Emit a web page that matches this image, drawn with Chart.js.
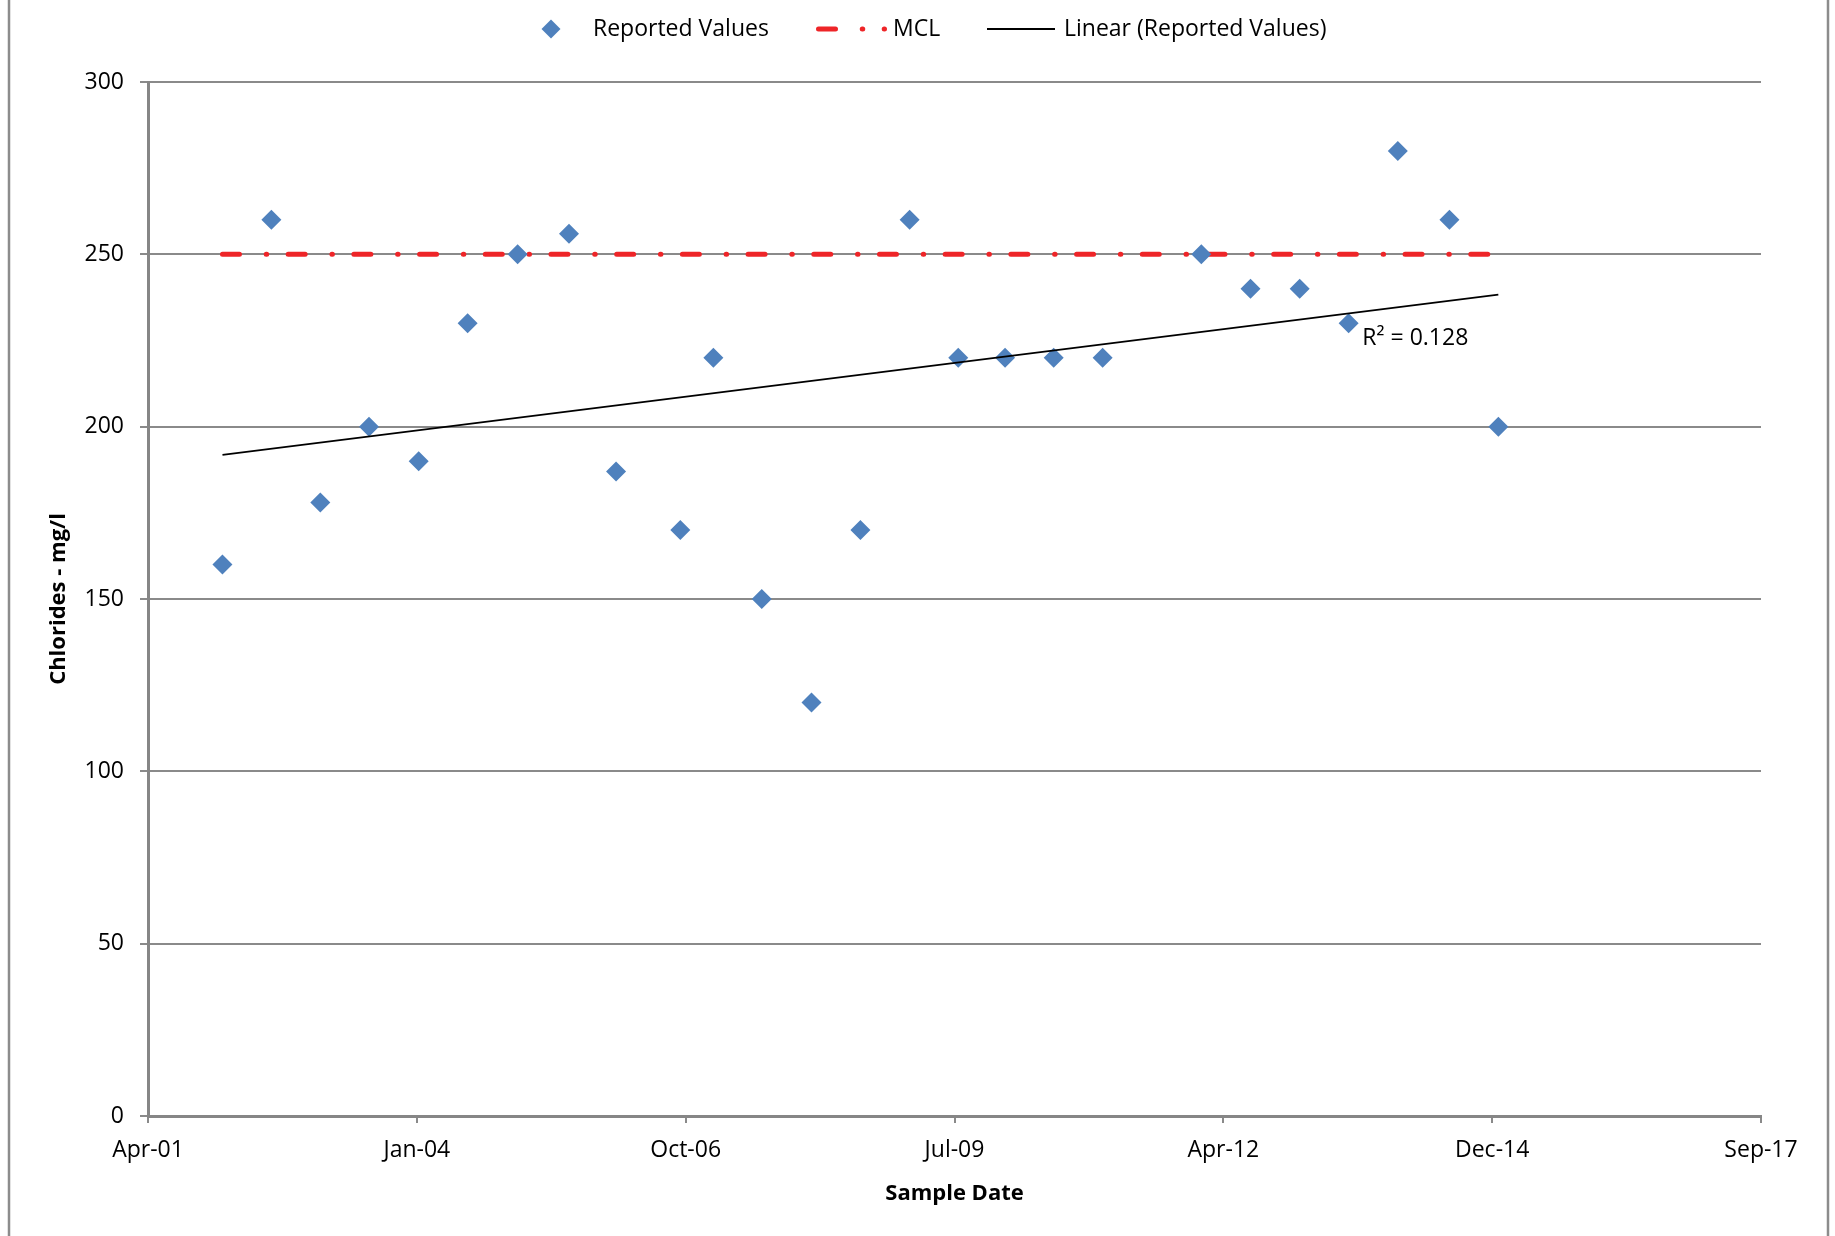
<!DOCTYPE html>
<html>
<head>
<meta charset="utf-8">
<script src="https://cdn.jsdelivr.net/npm/chart.js@4"></script>
<style>
  html, body { margin: 0; padding: 0; background: #ffffff; }
  #c { display: block; }
</style>
</head>
<body>
<canvas id="c" width="1835" height="1236"></canvas>
<script>
// ---- Data ----
const sampleDates = [
  '2002-01-21','2002-07-22','2003-01-20','2003-07-20','2004-01-21','2004-07-21',
  '2005-01-23','2005-08-02','2006-01-24','2006-09-20','2007-01-21','2007-07-20',
  '2008-01-21','2008-07-21','2009-01-20','2009-07-20','2010-01-10','2010-07-10',
  '2011-01-08','2012-01-10','2012-07-11','2013-01-10','2013-07-11','2014-01-10',
  '2014-07-21','2015-01-19'
];
const chlorides = [
  160, 260, 178, 200, 190, 230,
  250, 256, 187, 170, 220, 150,
  120, 170, 260, 220, 220, 220,
  220, 250, 240, 240, 230, 280,
  260, 200
];
const mclValue = 250;
const xTickLabels = ['Apr-01','Jan-04','Oct-06','Jul-09','Apr-12','Dec-14','Sep-17'];
const yTickLabels = ['0','50','100','150','200','250','300'];
const xMinSerial = 37000, xMaxSerial = 43000, xStep = 1000;
const legendLabels = ['Reported Values', 'MCL', 'Linear (Reported Values)'];

// ---- Helpers ----
function toSerial(iso) {
  const [y, m, d] = iso.split('-').map(Number);
  return (Date.UTC(y, m - 1, d) - Date.UTC(1899, 11, 30)) / 86400000;
}
const xs = sampleDates.map(toSerial);
const scatterPts = xs.map((x, i) => ({ x: x, y: chlorides[i] }));

// least-squares trend (as the spreadsheet's linear trendline)
const n = xs.length;
const mx = xs.reduce((a, b) => a + b, 0) / n;
const my = chlorides.reduce((a, b) => a + b, 0) / n;
let sxy = 0, sxx = 0, syy = 0;
for (let i = 0; i < n; i++) {
  sxy += (xs[i] - mx) * (chlorides[i] - my);
  sxx += (xs[i] - mx) ** 2;
  syy += (chlorides[i] - my) ** 2;
}
const slope = sxy / sxx;
const intercept = my - slope * mx;
const r2 = (sxy * sxy) / (sxx * syy);
const xFirst = Math.min(...xs), xLast = Math.max(...xs);
const trendPts = [
  { x: xFirst, y: intercept + slope * xFirst },
  { x: xLast,  y: intercept + slope * xLast }
];
const mclPts = [{ x: xFirst, y: mclValue }, { x: xLast, y: mclValue }];

const FONT = "'Open Sans', 'Noto Sans', sans-serif";
const GRID = '#8a8a8a';
const BLUE = '#4F81BD';
const RED = '#EE2528';
const MCL_DASH = [17, 26.75, 0.5, 21.45];

const framePlugin = {
  id: 'frame',
  afterDraw(chart) {
    const ctx = chart.ctx;
    ctx.save();
    // outer chart border (left/right visible)
    ctx.strokeStyle = '#8c8c8c';
    ctx.lineWidth = 2.5;
    ctx.beginPath();
    ctx.moveTo(9, 0); ctx.lineTo(9, 1236);
    ctx.moveTo(1828, 0); ctx.lineTo(1828, 1236);
    ctx.stroke();

    // R² label near the trendline end
    const xs_ = chart.scales.x, ys_ = chart.scales.y;
    const px = xs_.getPixelForValue(trendPts[1].x);
    const py = ys_.getPixelForValue(trendPts[1].y);
    ctx.fillStyle = '#000';
    ctx.font = '23px ' + FONT;
    ctx.textBaseline = 'middle';
    ctx.textAlign = 'left';
    ctx.fillText('R² = ' + r2.toFixed(3), px - 136, py + 44);

    // legend
    const ly = 29;
    ctx.font = '23px ' + FONT;
    // diamond
    ctx.fillStyle = BLUE;
    ctx.beginPath();
    ctx.moveTo(551 - 9.5, ly); ctx.lineTo(551, ly - 9.5);
    ctx.lineTo(551 + 9.5, ly); ctx.lineTo(551, ly + 9.5);
    ctx.closePath(); ctx.fill();
    ctx.fillStyle = '#000';
    ctx.fillText(legendLabels[0], 593, ly);
    // MCL dash-dot
    ctx.strokeStyle = RED;
    ctx.lineWidth = 5;
    ctx.lineCap = 'round';
    ctx.setLineDash(MCL_DASH);
    ctx.beginPath();
    ctx.moveTo(818.5, ly); ctx.lineTo(884.5, ly);
    ctx.stroke();
    ctx.setLineDash([]);
    ctx.lineCap = 'butt';
    ctx.fillText(legendLabels[1], 893, ly);
    // linear
    ctx.strokeStyle = '#000';
    ctx.lineWidth = 2;
    ctx.beginPath();
    ctx.moveTo(987, ly); ctx.lineTo(1055, ly);
    ctx.stroke();
    ctx.fillText(legendLabels[2], 1064, ly);
    ctx.restore();
  }
};

new Chart(document.getElementById('c'), {
  type: 'scatter',
  data: {
    datasets: [
      {
        label: legendLabels[2],
        type: 'line',
        data: trendPts,
        borderColor: '#000000',
        borderWidth: 1.8,
        pointRadius: 0,
        fill: false,
        order: 0
      },
      {
        label: legendLabels[0],
        data: scatterPts,
        pointStyle: 'rectRot',
        pointRadius: 10,
        pointHoverRadius: 10,
        backgroundColor: BLUE,
        borderColor: BLUE,
        borderWidth: 0,
        order: 1
      },
      {
        label: legendLabels[1],
        type: 'line',
        data: mclPts,
        borderColor: RED,
        borderWidth: 5,
        borderDash: MCL_DASH,
        borderCapStyle: 'round',
        pointRadius: 0,
        fill: false,
        order: 2
      }
    ]
  },
  options: {
    responsive: false,
    animation: false,
    devicePixelRatio: 1,
    layout: { padding: { left: 0, right: 74, top: 82, bottom: 0 } },
    plugins: {
      legend: { display: false },
      tooltip: { enabled: false }
    },
    scales: {
      x: {
        type: 'linear',
        min: xMinSerial,
        max: xMaxSerial,
        afterFit(s) { s.height = 120; },
        afterBuildTicks(s) {
          s.ticks = xTickLabels.map((_, i) => ({ value: xMinSerial + i * xStep }));
        },
        ticks: {
          stepSize: xStep,
          autoSkip: false,
          maxRotation: 0,
          color: '#000',
          padding: 14,
          font: { family: FONT, size: 23 },
          callback(v) { return xTickLabels[Math.round((v - xMinSerial) / xStep)]; }
        },
        grid: { drawOnChartArea: false, drawTicks: true, tickLength: 7, color: GRID, lineWidth: 2 },
        border: { display: true, color: '#868686', width: 3 },
        title: {
          display: true,
          text: 'Sample Date',
          color: '#000',
          font: { family: FONT, size: 22, weight: 'bold' },
          padding: { top: 0, bottom: 29 }
        }
      },
      y: {
        min: 0,
        max: 300,
        afterFit(s) { s.width = 148; },
        ticks: {
          stepSize: 50,
          color: '#000',
          padding: 16,
          font: { family: FONT, size: 23 },
          callback(v) { return yTickLabels[Math.round(v / 50)]; }
        },
        grid: { color: GRID, lineWidth: 2, tickLength: 8, drawTicks: true },
        border: { display: true, color: '#868686', width: 3 },
        title: {
          display: true,
          text: 'Chlorides - mg/l',
          color: '#000',
          font: { family: FONT, size: 22, weight: 'bold' },
          padding: { top: 46, bottom: 0 }
        }
      }
    }
  },
  plugins: [framePlugin]
});
</script>
</body>
</html>
